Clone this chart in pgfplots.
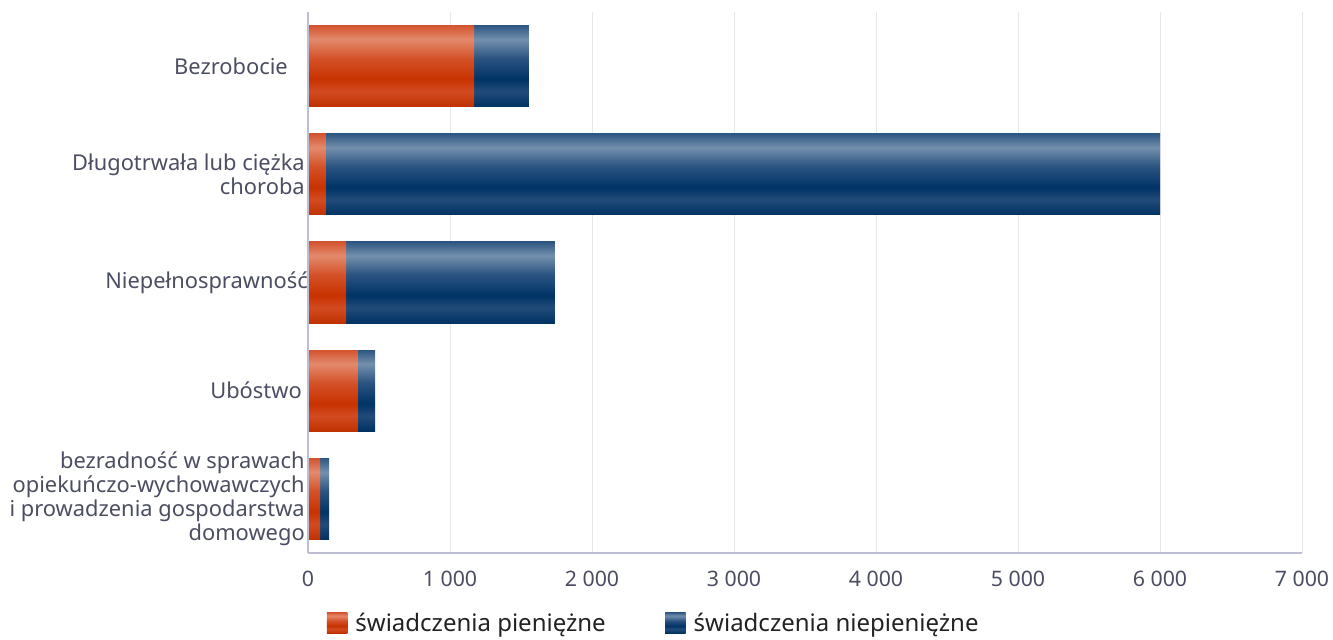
\documentclass[border=0pt]{standalone}
\usepackage{pgfplots}
\usepackage{pgfplotstable}
\pgfplotsset{compat=1.18}
\usepackage{fontspec}
\setmainfont{Noto Sans}
\definecolor{labc}{HTML}{4B4E62}
\definecolor{gridc}{HTML}{E6E6EC}
\definecolor{axc}{HTML}{BDBDD6}
\definecolor{legc}{HTML}{222222}
% red gradient
\definecolor{rA}{HTML}{D35430}
\definecolor{rB}{HTML}{E38A6C}
\definecolor{rC}{HTML}{D45229}
\definecolor{rD}{HTML}{C83200}
\definecolor{rE}{HTML}{D24B22}
\definecolor{rF}{HTML}{BF3200}
% blue gradient
\definecolor{bA}{HTML}{2E5783}
\definecolor{bB}{HTML}{7490AD}
\definecolor{bC}{HTML}{2B5482}
\definecolor{bD}{HTML}{003366}
\definecolor{bE}{HTML}{224B79}
\definecolor{bF}{HTML}{003264}
\pgfdeclareverticalshading{redbar}{100bp}{color(0bp)=(rF); color(25bp)=(rF); color(34.5bp)=(rE); color(42bp)=(rD); color(55bp)=(rC); color(66.5bp)=(rB); color(75bp)=(rA); color(100bp)=(rA)}
\pgfdeclareverticalshading{bluebar}{100bp}{color(0bp)=(bF); color(25bp)=(bF); color(34.5bp)=(bE); color(42bp)=(bD); color(55bp)=(bC); color(66.5bp)=(bB); color(75bp)=(bA); color(100bp)=(bA)}
\pgfplotstableread{
idx red blue
0 1169 387
1 125 5875
2 268 1471
3 352 120
4 85 63
}\data
\begin{document}
\begin{tikzpicture}
\path[use as bounding box] (0,0) rectangle (999.75pt,-479.25pt);
\begin{axis}[
  at={(231pt,-414.75pt)}, anchor=south west,
  scale only axis, width=745.5pt, height=405.75pt,
  xbar, bar width=0.75,
  y dir=reverse, ymin=-0.5, ymax=4.5,
  xmin=0, xmax=7000,
  xtick={0,1000,2000,3000,4000,5000,6000,7000},
  xticklabels={0,1 000,2 000,3 000,4 000,5 000,6 000,7 000},
  ytick={0,1,2,3,4},
  yticklabels={Bezrobocie\hspace*{12.75pt},{Długotrwała lub ciężka\\choroba},Niepełnosprawność\hspace*{-2.25pt},Ubóstwo\hspace*{2.25pt},{bezradność w sprawach\\opiekuńczo-wychowawczych\\i prowadzenia gospodarstwa\\domowego}},
  major tick length=0pt,
  xmajorgrids, grid style={gridc, line width=0.75pt},
  axis line style={draw=none},
  axis x line*=bottom, axis y line*=left,
  xticklabel style={font=\fontsize{16}{19}\selectfont, text=labc, inner sep=0pt, yshift=-13pt},
  yticklabel style={font=\fontsize{16.4}{18}\selectfont, text=labc, align=right, inner sep=0pt, xshift=-2.25pt},
  legend style={at={(0.0186,-0.1294)}, anchor=west, draw=none, inner sep=0pt, font=\fontsize{18}{21}\selectfont, text=legc, /tikz/every even column/.append style={column sep=42.5pt}},
  legend columns=2,
  legend image code/.code={\path[#1,draw=none] (0pt,-7.5pt) rectangle (15.5pt,8pt);\path (19.5pt,0pt);},
  legend cell align=left,
  clip=false,
]
\addlegendimage{draw=none, shading=redbar}
\addlegendentry{świadczenia pieniężne}
\addlegendimage{draw=none, shading=bluebar}
\addlegendentry{świadczenia niepieniężne}
\pgfplotsinvokeforeach{0,...,4}{
  \addplot[forget plot, draw=none, shading=bluebar, bar shift=0pt, restrict y to domain=#1:#1]
    table[x expr=\thisrow{red}+\thisrow{blue}, y=idx] {\data};
  \addplot[forget plot, draw=none, shading=redbar, bar shift=0pt, restrict y to domain=#1:#1]
    table[x=red, y=idx] {\data};
}
\draw[axc, line width=0.9pt] (rel axis cs:0,0) -- (rel axis cs:0,1);
\draw[axc, line width=0.9pt] (rel axis cs:0,0) -- (rel axis cs:1,0);
\end{axis}
\end{tikzpicture}
\end{document}
